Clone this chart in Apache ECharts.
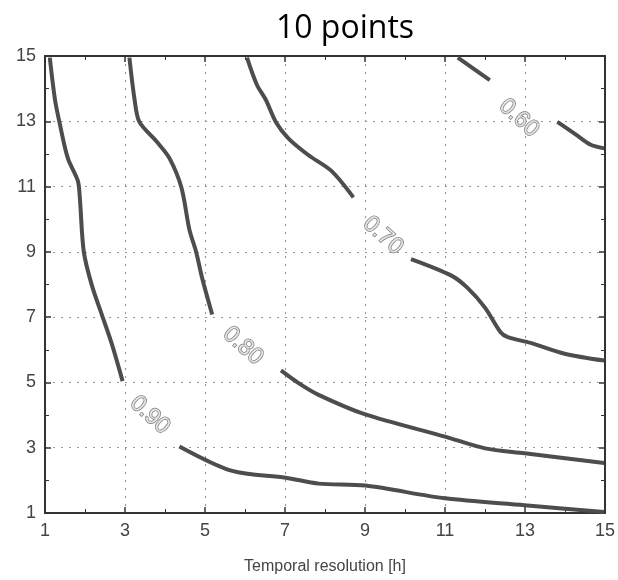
<!DOCTYPE html>
<html>
<head>
<meta charset="utf-8">
<script src="https://cdn.jsdelivr.net/npm/echarts@6/dist/echarts.min.js"></script>
<style>
  html, body { margin: 0; padding: 0; background: #fff; }
  #main { width: 618px; height: 580px; }
</style>
</head>
<body>
<div id="main"></div>
<script>
// ---------- data
var xTicks = [1, 3, 5, 7, 9, 11, 13, 15];
var yTicks = [1, 3, 5, 7, 9, 11, 13, 15];

// contour 0.90 (two pieces, split by its label)
var c90a = [[1.12, 14.95], [1.25, 13.66], [1.37, 12.92], [1.57, 11.87], [1.82, 11.18], [1.87, 10.67],
  [1.97, 9.0], [2.17, 7.98], [2.42, 7.08], [2.67, 6.18], [2.94, 5.04]];
var c90b = [[4.36, 3.04], [5.68, 2.29], [7.02, 2.08], [7.84, 1.9], [9.01, 1.84], [11.0, 1.45],
  [12.99, 1.24], [14.98, 1.03]];
// contour 0.80
var c80a = [[3.11, 14.95], [3.24, 13.66], [3.36, 12.98], [3.79, 12.38], [4.11, 11.87], [4.41, 10.97],
  [4.61, 9.68], [4.78, 8.99], [4.93, 8.19], [5.18, 7.08]];
var c80b = [[6.9, 5.37], [7.34, 4.98], [7.84, 4.62], [9.01, 4.02], [11.0, 3.34], [12.0, 2.98],
  [12.99, 2.83], [14.98, 2.53]];
// contour 0.70
var c70a = [[6.05, 14.95], [6.3, 14.11], [6.52, 13.66], [6.77, 12.98], [7.09, 12.47], [7.59, 11.96],
  [8.16, 11.48], [8.71, 10.67]];
var c70b = [[10.15, 8.78], [11.15, 8.28], [11.57, 7.89], [12.0, 7.29], [12.39, 6.54], [12.57, 6.39],
  [13.14, 6.21], [13.99, 5.88], [14.98, 5.67]];
// contour 0.60
var c60a = [[11.32, 14.95], [12.12, 14.26]];
var c60b = [[13.81, 12.98], [14.31, 12.56], [14.63, 12.29], [14.98, 12.17]];

// contour labels
var labelText = ["0.60", "0.70", "0.80", "0.90"];
var labelX = [12.85, 9.45, 5.95, 3.62];
var labelY = [13.1, 9.5, 6.12, 4.0];

var segments = [c90a, c90b, c80a, c80b, c70a, c70b, c60a, c60b];

// ---------- chart
var myChart = echarts.init(document.getElementById("main"));

var lineSeries = segments.map(function (seg) {
  return {
    type: "line",
    data: seg,
    symbol: "none",
    smooth: 0.3,
    lineStyle: { color: "#4d4d4d", width: 4 },
    silent: true,
    z: 3
  };
});

var labelData = labelText.map(function (t, i) {
  return { value: [labelX[i], labelY[i]], name: t };
});

var frameAxis = {
  min: 1, max: 15, interval: 2,
  axisLine: { show: true, lineStyle: { color: "#333", width: 2 } },
  axisTick: { show: true, inside: true, length: 6, lineStyle: { color: "#333", width: 1.5 } },
  minorTick: { show: true, splitNumber: 2, length: 4, lineStyle: { color: "#333" } },
  axisLabel: { show: false },
  splitLine: { show: false }
};

var option = {
  backgroundColor: "#fff",
  animation: false,
  title: {
    text: "10 points",
    left: 340,
    top: 8,
    textAlign: "center",
    textStyle: { fontFamily: "Open Sans", fontWeight: "normal", fontSize: 32, color: "#000" }
  },
  grid: { left: 45, right: 11, top: 56, bottom: 57, containLabel: false },
  xAxis: [
    {
      type: "value",
      min: 1, max: 15, interval: 2,
      name: "Temporal resolution [h]",
      nameLocation: "middle",
      nameGap: 46,
      nameTextStyle: { fontFamily: "Liberation Sans", fontSize: 16, color: "#444" },
      axisLine: { show: true, onZero: false, lineStyle: { color: "#333", width: 2 } },
      axisTick: { show: true, inside: true, length: 6, lineStyle: { color: "#333", width: 1.5 } },
      minorTick: { show: true, splitNumber: 2, length: 4, lineStyle: { color: "#333" } },
      axisLabel: {
        fontFamily: "Liberation Sans", fontSize: 18, color: "#444", margin: 9,
        formatter: function (v) { return xTicks.indexOf(v) >= 0 ? String(v) : ""; }
      },
      splitLine: { show: true, lineStyle: { color: "#999", type: [2, 6], width: 1.2 } }
    },
    Object.assign({ type: "value", position: "top" }, frameAxis)
  ],
  yAxis: [
    {
      type: "value",
      min: 1, max: 15, interval: 2,
      axisLine: { show: true, onZero: false, lineStyle: { color: "#333", width: 2 } },
      axisTick: { show: true, inside: true, length: 6, lineStyle: { color: "#333", width: 1.5 } },
      minorTick: { show: true, splitNumber: 2, length: 4, lineStyle: { color: "#333" } },
      axisLabel: {
        fontFamily: "Liberation Sans", fontSize: 18, color: "#444", margin: 9,
        formatter: function (v) { return yTicks.indexOf(v) >= 0 ? String(v) : ""; }
      },
      splitLine: { show: true, lineStyle: { color: "#999", type: [2, 6], width: 1.2 } }
    },
    Object.assign({ type: "value", position: "right" }, frameAxis)
  ],
  series: lineSeries.concat([
    {
      type: "scatter",
      data: labelData,
      symbolSize: 0,
      silent: true,
      z: 4,
      label: {
        show: true,
        position: "inside",
        rotate: -42,
        formatter: function (p) { return p.name; },
        fontFamily: "Liberation Sans",
        fontSize: 23,
        color: "#f0f0f0",
        textBorderColor: "#5e5e5e",
        textBorderWidth: 1.4
      }
    }
  ])
};

myChart.setOption(option);
</script>
</body>
</html>
